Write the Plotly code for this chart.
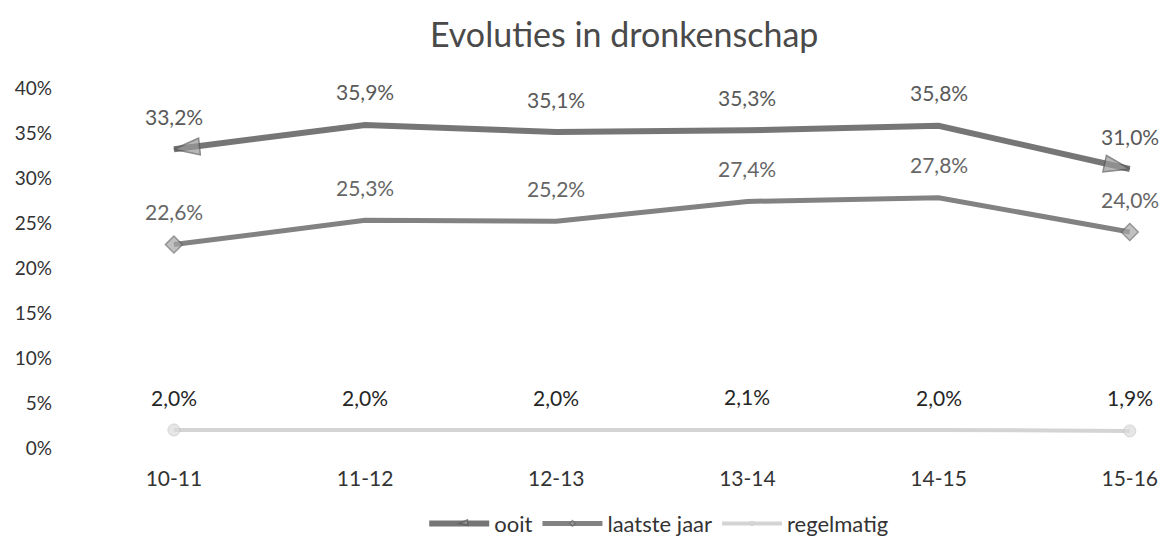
import plotly.graph_objects as go

# schooljaren
jaren = ["10-11", "11-12", "12-13", "13-14", "14-15", "15-16"]

# percentages dronkenschap
ooit = [33.2, 35.9, 35.1, 35.3, 35.8, 31.0]
laatste_jaar = [22.6, 25.3, 25.2, 27.4, 27.8, 24.0]
regelmatig = [2.0, 2.0, 2.0, 2.1, 2.0, 1.9]

y_ticks = [0, 5, 10, 15, 20, 25, 30, 35, 40]

FONT = "Lato"


def lbl(v):
    return ("%.1f%%" % v).replace(".", ",")


fig = go.Figure()

# ooit: pijl aan beide uiteinden
n = len(jaren)
fig.add_trace(go.Scatter(
    x=jaren, y=ooit, name="ooit", mode="lines+markers",
    line=dict(color="#767676", width=6),
    marker=dict(symbol=["arrow"] * n, size=[27] + [0] * (n - 2) + [27],
                angle=[264] + [0] * (n - 2) + [102],
                color="#9a9a9a", line=dict(width=1.5, color="#5a5a5a")),
))

fig.add_trace(go.Scatter(
    x=jaren, y=laatste_jaar, name="laatste jaar", mode="lines+markers",
    line=dict(color="#828282", width=5),
    marker=dict(symbol="diamond", size=[13] + [0] * (n - 2) + [13],
                color="#a8a8a8", line=dict(width=1.5, color="#6a6a6a")),
))

fig.add_trace(go.Scatter(
    x=jaren, y=regelmatig, name="regelmatig", mode="lines+markers",
    line=dict(color="#d4d4d4", width=4),
    marker=dict(symbol="circle", size=[12] + [0] * (n - 2) + [12],
                color="#dcdcdc", line=dict(width=1, color="#c4c4c4")),
))

for serie, kleur in [(ooit, "#595959"), (laatste_jaar, "#666666"), (regelmatig, "#262626")]:
    for j, v in zip(jaren, serie):
        fig.add_annotation(x=j, y=v, text=lbl(v), showarrow=False, yshift=33,
                           font=dict(family=FONT, size=21, color=kleur))

fig.update_layout(
    width=1167, height=544,
    margin=dict(l=95, r=7, t=80, b=101),
    paper_bgcolor="white", plot_bgcolor="white",
    title=dict(text="Evoluties in dronkenschap", x=0.528, xanchor="center",
               y=0.95, yanchor="middle",
               font=dict(family=FONT, size=34, color="#4a4a4a")),
    font=dict(family=FONT, size=19, color="#3a3a3a"),
    showlegend=True,
    legend=dict(orientation="h", x=0.52, xanchor="center", y=-0.21, yanchor="middle",
                font=dict(family=FONT, size=22, color="#333333"),
                itemwidth=60, tracegroupgap=0),
    xaxis=dict(type="category", range=[-0.35, 5.2], showgrid=False, zeroline=False,
               showline=False, ticks="", ticklabelstandoff=16,
               tickfont=dict(family=FONT, size=21, color="#333333")),
    yaxis=dict(range=[0, 40], tickvals=y_ticks, ticktext=[f"{t}%" for t in y_ticks],
               showgrid=False, zeroline=False, showline=False, ticks="",
               ticklabelstandoff=54,
               tickfont=dict(family=FONT, size=19, color="#333333")),
)

fig.write_html("out.html")
